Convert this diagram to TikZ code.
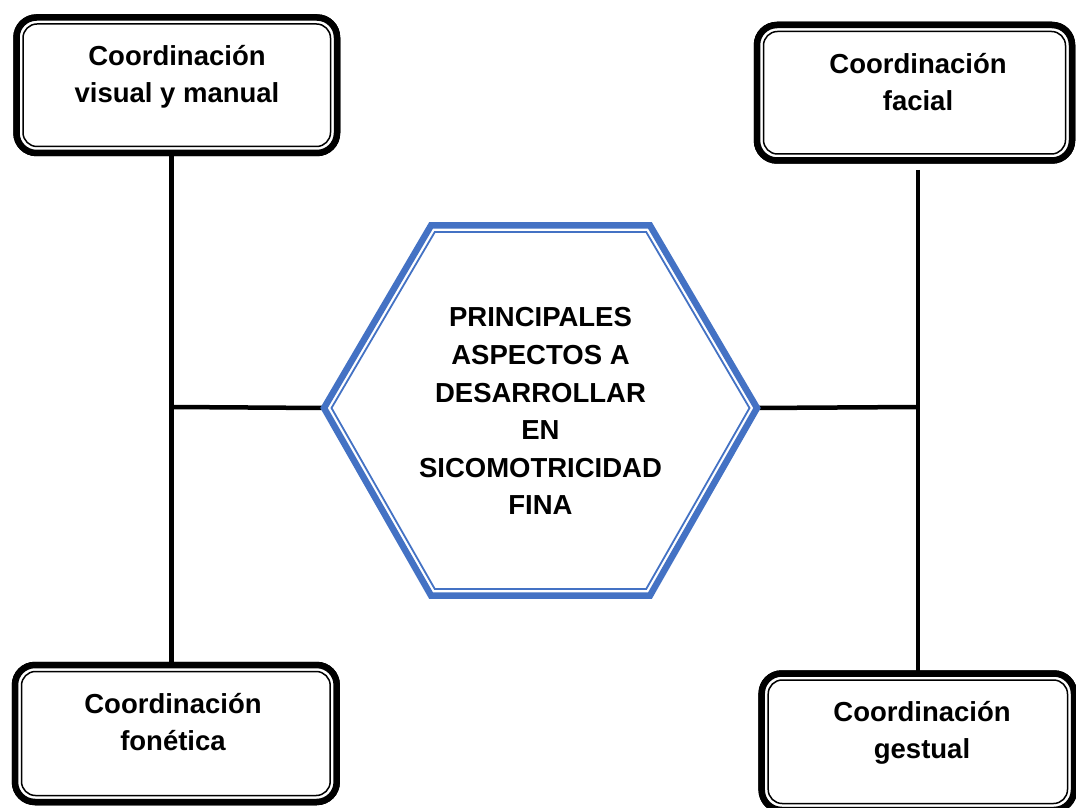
\documentclass[tikz,border=0pt]{standalone}
\usepackage{fontspec}
\setmainfont{Liberation Sans}
\definecolor{hexblue}{HTML}{4472C4}
\begin{document}
\begin{tikzpicture}[x=1pt,y=1pt,
  outerbox/.style={draw=black, line width=6.5pt, rounded corners=20pt, inner sep=0pt, outer sep=0pt, fill=white},
  innerline/.style={draw=black, line width=1.5pt, rounded corners=14pt},
  boxtext/.style={font=\fontsize{27.5}{37}\selectfont\bfseries, inner sep=0pt, anchor=base},
  hubtext/.style={font=\fontsize{27.5}{37.6}\selectfont\bfseries, inner sep=0pt, anchor=base},
  link/.style={draw=black, line width=4.5pt},
  hexouter/.style={draw=hexblue, line width=6.5pt, fill=white},
  hexinner/.style={draw=hexblue, line width=1.8pt}
]
\fill[white] (0,0) rectangle (1076,807);
\path[use as bounding box] (0,0) rectangle (1076,807);

% boxes
\node[outerbox, minimum width=320.5pt, minimum height=135.5pt] (tl) at (176.75,721.75) {};
\node[outerbox, minimum width=315pt, minimum height=135.5pt] (tr) at (914.5,714.25) {};
\node[outerbox, minimum width=321.7pt, minimum height=137pt] (bl) at (175.85,73.5) {};
\node[outerbox, minimum width=312.3pt, minimum height=136.5pt] (br) at (917.85,65.25) {};

% connectors
\coordinate (lj) at (171.5,400);
\coordinate (rj) at (918,400);
\coordinate (rtop) at (918,637);
\coordinate (hexW) at (324,399);
\coordinate (hexE) at (757,399);
\draw[link] (tl.south -| lj) -- (bl.north -| lj);
\draw[link] (rtop) -- (br.north -| rtop);
\draw[link] (lj) -- (hexW);
\draw[link] (hexE) -- (rj);

% redraw boxes on top
\foreach \b in {tl,tr,bl,br}{
  \draw[outerbox] (\b.south west) rectangle (\b.north east);
  \draw[innerline] ([shift={(6.5pt,6.5pt)}]\b.south west) rectangle ([shift={(-6.5pt,-6.5pt)}]\b.north east);
}

% hexagon
\draw[hexouter] (hexW) -- (431,581.5) -- (650,581.5) -- (hexE) -- (650,211.5) -- (431,211.5) -- cycle;
\draw[hexinner] (331.5,399) -- (434.8,575) -- (646.2,575) -- (749.5,399) -- (646.2,218) -- (434.8,218) -- cycle;

% texts
\node[boxtext] (tlt) at (177,741) {\begin{tabular}[t]{@{}c@{}}Coordinación\\visual y manual\end{tabular}};
\node[boxtext] (trt) at (918,733.7) {\begin{tabular}[t]{@{}c@{}}Coordinación\\facial\end{tabular}};
\node[boxtext] (blt) at (173,93.7) {\begin{tabular}[t]{@{}c@{}}Coordinación\\fonética\end{tabular}};
\node[boxtext] (brt) at (922,85.3) {\begin{tabular}[t]{@{}c@{}}Coordinación\\gestual\end{tabular}};
\node[hubtext] (hub) at (540.5,480) {\begin{tabular}[t]{@{}c@{}}PRINCIPALES\\ASPECTOS A\\DESARROLLAR\\EN\\SICOMOTRICIDAD\\FINA\end{tabular}};
\end{tikzpicture}
\end{document}
